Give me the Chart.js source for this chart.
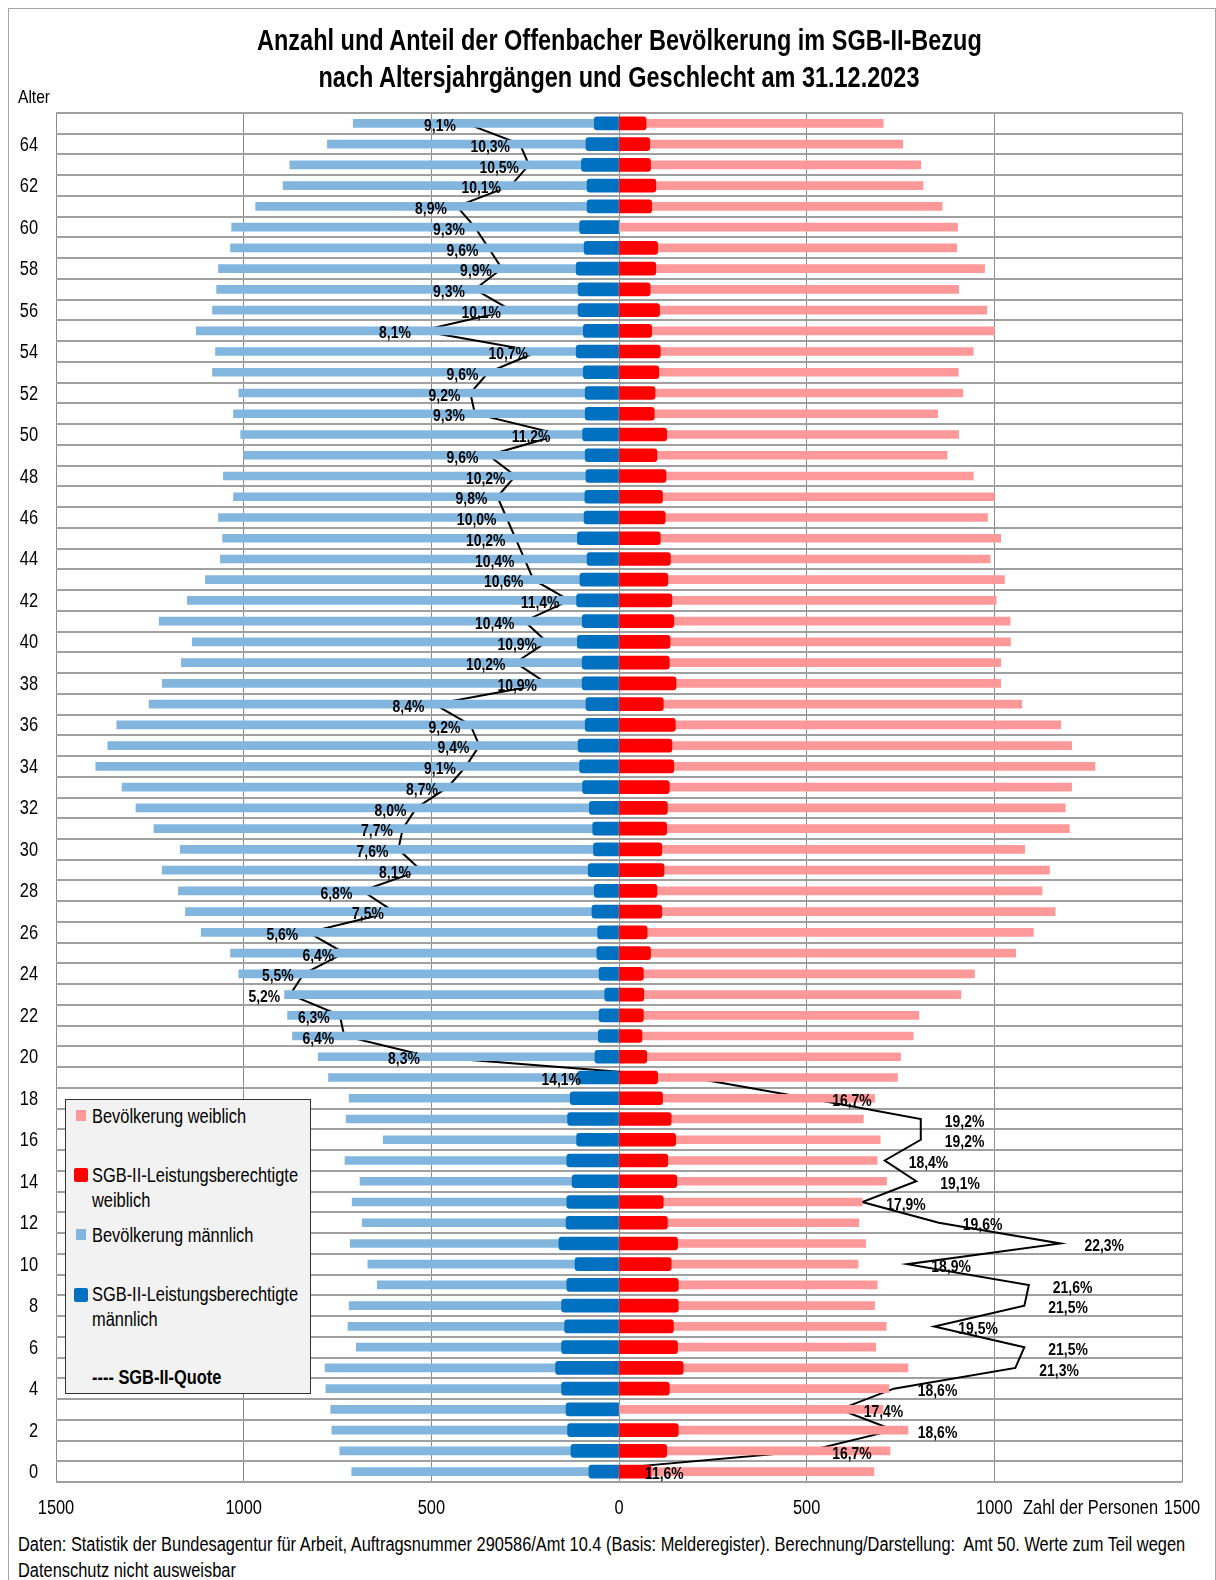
<!DOCTYPE html>
<html lang="de">
<head>
<meta charset="utf-8">
<title>SGB-II-Bezug Offenbach 2023</title>
<script src="https://cdn.jsdelivr.net/npm/chart.js@4.4.1/dist/chart.umd.min.js"></script>
<style>
	html, body { margin: 0; padding: 0; background: #fff; }
	body { width: 1216px; height: 1580px; position: relative; overflow: hidden;
		font-family: 'Liberation Sans', Arial, sans-serif; color: #000; }
	#frame { position: absolute; left: 8px; top: 8px; width: 1206px; height: 1600px; border: 1px solid #a6a6a6; }
	.narrow { display: inline-block; transform: scaleX(0.82); transform-origin: left center; white-space: nowrap; }
	#title { position: absolute; left: 56px; width: 1126px; top: 22px; text-align: center;
		font-weight: bold; font-size: 29px; line-height: 37px; }
	#title .narrow { transform: scaleX(0.81); transform-origin: center center; }
	#alter { position: absolute; left: 18px; top: 85px; font-size: 19px; line-height: 24px; }
	#chartBox { position: absolute; left: 0; top: 0; }
	#legendBox { position: absolute; left: 65px; top: 1099px; width: 244px; height: 293px;
		background: #f2f2f2; border: 1.5px solid #333; }
	.lg { position: absolute; font-size: 20px; line-height: 25px; white-space: nowrap; }
	.sw { position: absolute; }
	#note { position: absolute; left: 18px; top: 1531px; font-size: 20px; line-height: 26px; white-space: nowrap; }
</style>
</head>
<body>
<div id="frame"></div>
<div id="chartBox"><canvas id="chartUI" width="1216" height="1530"></canvas></div>
<div id="title"><span class="narrow">Anzahl und Anteil der Offenbacher Bevölkerung im SGB-II-Bezug</span><br><span class="narrow">nach Altersjahrgängen und Geschlecht am 31.12.2023</span></div>
<div id="alter"><span class="narrow">Alter</span></div>

<div id="legendBox">
	<div class="sw" style="left:10px;top:10px;width:10px;height:11px;background:#ff9999"></div>
	<div class="lg" style="left:26px;top:4px"><span class="narrow">Bevölkerung weiblich</span></div>
	<div class="sw" style="left:8px;top:68px;width:14px;height:14px;border-radius:2px;background:#ff0000"></div>
	<div class="lg" style="left:26px;top:63px"><span class="narrow">SGB-II-Leistungsberechtigte</span><br><span class="narrow">weiblich</span></div>
	<div class="sw" style="left:10px;top:129px;width:10px;height:11px;background:#82b6df"></div>
	<div class="lg" style="left:26px;top:123px"><span class="narrow">Bevölkerung männlich</span></div>
	<div class="sw" style="left:8px;top:188px;width:14px;height:14px;border-radius:2px;background:#0070c0"></div>
	<div class="lg" style="left:26px;top:182px"><span class="narrow">SGB-II-Leistungsberechtigte</span><br><span class="narrow">männlich</span></div>
	<div class="lg" style="left:26px;top:265px;font-weight:bold"><span class="narrow">---- SGB-II-Quote</span></div>
</div>

<div id="note"><span class="narrow">Daten: Statistik der Bundesagentur für Arbeit, Auftragsnummer 290586/Amt 10.4 (Basis: Melderegister). Berechnung/Darstellung:&nbsp; Amt 50. Werte zum Teil wegen</span><br><span class="narrow">Datenschutz nicht ausweisbar</span></div>

<script>
// Altersjahre 0 bis 65 (Kategorien der y-Achse)
var ages = ['0','1','2','3','4','5','6','7','8','9','10','11','12','13','14','15','16','17','18','19',
	'20','21','22','23','24','25','26','27','28','29','30','31','32','33','34','35','36','37','38','39',
	'40','41','42','43','44','45','46','47','48','49','50','51','52','53','54','55','56','57','58','59',
	'60','61','62','63','64','65'];

// Bevoelkerung maennlich (Alter 0..65)
var popMale = [712,744,765,768,781,783,700,722,719,644,669,716,684,711,690,730,628,727,719,774,
	801,870,883,891,1013,1035,1113,1155,1174,1217,1169,1239,1287,1324,1394,1362,1338,1252,1217,1166,
	1137,1225,1150,1102,1062,1056,1067,1027,1054,1000,1008,1027,1013,1083,1075,1126,1083,1072,1067,1035,
	1032,968,895,877,777,708];

// SGB-II-Leistungsberechtigte maennlich
var sgbMale = [80,128,137,141,153,169,153,145,153,139,117,160,141,139,125,139,113,137,130,110,
	64,55,53,38,53,59,57,72,66,82,68,70,79,97,105,109,90,88,98,98,
	111,98,113,104,85,111,93,91,88,90,97,90,90,95,114,95,109,109,114,93,
	105,85,85,100,88,66];

// Bevoelkerung weiblich
var popFemale = [679,722,770,703,719,770,684,712,681,688,637,657,639,648,713,688,696,651,681,742,
	750,784,799,911,947,1057,1104,1162,1127,1147,1081,1200,1189,1206,1268,1206,1177,1073,1017,1017,
	1043,1042,1005,1027,989,1017,982,1000,944,874,905,849,916,904,944,1000,980,905,974,900,
	902,861,810,804,756,704];

// SGB-II-Leistungsberechtigte weiblich (null = nicht ausweisbar)
var sgbFemale = [85,127,158,null,134,171,156,145,158,158,139,156,129,118,154,130,151,139,116,103,
	74,61,65,66,65,84,75,114,101,120,114,127,129,134,146,141,150,118,152,134,
	136,146,141,130,137,110,123,116,125,101,127,94,96,106,110,87,108,83,98,103,
	null,87,98,84,82,72];

// SGB-II-Quote in %
var quote = [11.6,16.7,18.6,17.4,18.6,21.3,21.5,19.5,21.5,21.6,18.9,22.3,19.6,17.9,19.1,18.4,19.2,19.2,16.7,14.1,
	8.3,6.4,6.3,5.2,5.5,6.4,5.6,7.5,6.8,8.1,7.6,7.7,8.0,8.7,9.1,9.4,9.2,8.4,10.9,10.2,
	10.9,10.4,11.4,10.6,10.4,10.2,10.0,9.8,10.2,9.6,11.2,9.3,9.2,9.6,10.7,8.1,10.1,9.3,9.9,9.6,
	9.3,8.9,10.1,10.5,10.3,9.1];

var xTicks = [-1500,-1000,-500,0,500,1000,1500];

var FONT = "'Liberation Sans', Arial, sans-serif";
var SQUEEZE = 0.82; // Arial Narrow nachbilden
Chart.defaults.font.family = FONT;
Chart.defaults.color = '#000';

var negate = function(arr) {
	return arr.map(function(v) { return v === null ? null : -v; });
};

// Text schmal zeichnen (horizontal gestaucht)
var narrowText = function(c, txt, x, y, align, font) {
	c.save();
	c.font = font;
	c.fillStyle = '#000';
	c.textBaseline = 'middle';
	c.textAlign = align;
	c.translate(x, y);
	c.scale(SQUEEZE, 1);
	c.fillText(txt, 0, 0);
	c.restore();
};

// Quote-Beschriftungen, Achsenbeschriftung
var textLayer = {
	id: 'textLayer',
	afterDatasetsDraw: function(chart) {
		var c = chart.ctx;
		var meta = chart.getDatasetMeta(0);
		var xs = chart.scales.x, ys = chart.scales.y;
		var zero = xs.getPixelForValue(0);
		var lblFont = 'bold 17px ' + FONT;
		meta.data.forEach(function(pt, i) {
			var txt = quote[i].toFixed(1).replace('.', ',') + '%';
			if (i >= 19) {
				var xr = pt.x - 10;
				if (i === 19) xr = Math.min(xr, zero - 38);
				narrowText(c, txt, xr, pt.y + 3, 'right', lblFont);
			} else {
				narrowText(c, txt, Math.max(pt.x + 24, zero + 26), pt.y + 3, 'left', lblFont);
			}
		});
		// x-Achse
		var ty = xs.top + 26;
		xTicks.forEach(function(v) {
			narrowText(c, String(Math.abs(v)), xs.getPixelForValue(v), ty, 'center', '20px ' + FONT);
		});
		narrowText(c, 'Zahl der Personen', xs.getPixelForValue(1500) - 24, ty, 'right', '20px ' + FONT);
		// y-Achse (gerade Altersjahre)
		ages.forEach(function(a, i) {
			if (Number(a) % 2 === 0) {
				narrowText(c, a, ys.left + ys.width - 18, ys.getPixelForValue(i) + 1, 'right', '20px ' + FONT);
			}
		});
	}
};

var ctx = document.getElementById('chartUI');
var pyramid = new Chart(ctx, {
	type: 'bar',
	data: {
		labels: ages,
		datasets: [
			{
				type: 'line', label: 'SGB-II-Quote', indexAxis: 'y', xAxisID: 'xq', yAxisID: 'y',
				data: quote, borderColor: '#000', borderWidth: 2, pointRadius: 0, tension: 0, order: 3
			},
			{ label: 'Bevölkerung männlich', data: negate(popMale), backgroundColor: '#82b6df',
				grouped: false, barThickness: 8, order: 2 },
			{ label: 'Bevölkerung weiblich', data: popFemale, backgroundColor: '#ff9999',
				grouped: false, barThickness: 8, order: 2 },
			{ label: 'SGB-II-Leistungsberechtigte männlich', data: negate(sgbMale), backgroundColor: '#0070c0',
				grouped: false, barThickness: 13, borderRadius: 3, order: 1 },
			{ label: 'SGB-II-Leistungsberechtigte weiblich', data: sgbFemale, backgroundColor: '#ff0000',
				grouped: false, barThickness: 13, borderRadius: 3, order: 1 }
		]
	},
	options: {
		indexAxis: 'y',
		responsive: false,
		animation: false,
		layout: { padding: { left: 10, right: 34, top: 113, bottom: 8 } },
		plugins: { legend: { display: false }, tooltip: { enabled: false } },
		scales: {
			x: {
				type: 'linear', min: -1500, max: 1500,
				afterBuildTicks: function(scale) { scale.ticks = xTicks.map(function(v) { return { value: v }; }); },
				afterFit: function(scale) { scale.height = 40; },
				ticks: { display: false },
				grid: { color: '#8c8c8c', lineWidth: 1, drawTicks: false },
				border: { display: false }
			},
			xq: { type: 'linear', min: 0, max: 25, display: false },
			y: {
				type: 'category', reverse: true, offset: true,
				afterFit: function(scale) { scale.width = 46; },
				ticks: { display: false, autoSkip: false },
				grid: { offset: true, color: '#a0a0a0', lineWidth: 2, drawTicks: false },
				border: { display: false }
			}
		}
	},
	plugins: [textLayer]
});
</script>
</body>
</html>
